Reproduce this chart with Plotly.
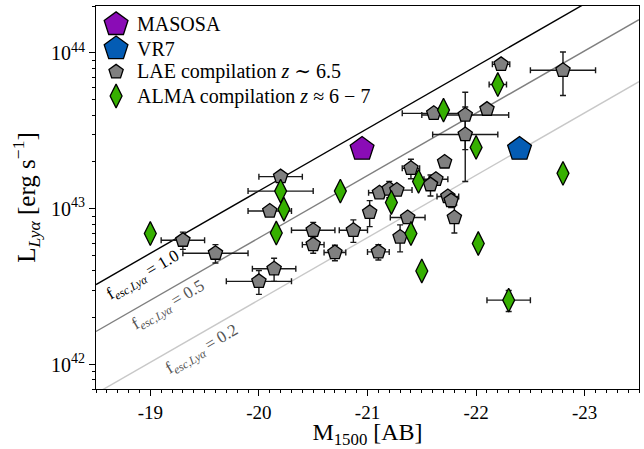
import numpy as np
import plotly.graph_objects as go

# ---------------- data ----------------
# MASOSA and VR7 (M1500 [AB], L_Lya [1e42 erg/s])
masosa_M = [-20.95]
masosa_L = [24.2]
masosa_Lerr = [2.0]

vr7_M = [-22.4]
vr7_L = [24.2]
vr7_Lerr = [2.0]

# LAE compilation z~6.5
lae_M = [-20.2, -20.1, -19.3, -19.6, -20.14, -20.0, -20.5, -20.5, -20.7, -20.87,
         -21.1, -21.02, -21.11, -21.2, -21.27, -21.37, -21.3, -21.4, -21.63, -21.58,
         -21.71, -21.74, -21.77, -21.8, -22.23, -22.8, -21.61, -21.9, -21.9, -22.1]
lae_L = [16.1, 9.7, 6.3, 5.2, 4.13, 3.43, 7.3, 5.9, 5.25, 7.3,
         5.3, 9.5, 12.7, 13.4, 13.2, 8.8, 6.6, 18.2, 15.5, 14.3,
         20.0, 12.0, 11.3, 8.8, 84.5, 77.4, 41.0, 40.0, 30.0, 43.6]
lae_Merr = [0.2, 0.2, 0.2, 0.3, 0.2, 0.3, 0.2, 0.1, 0.1, 0.13,
            0.1, 0.0, 0.1, 0.0, 0.14, 0.16, 0.0, 0.08, 0.11, 0.0,
            0.0, 0.1, 0.0, 0.0, 0.08, 0.3, 0.29, 0.4, 0.3, 0.0]
lae_Lerr = [0.0, 0.0, 0.8, 0.7, 0.7, 0.6, 0.9, 0.7, 0.6, 1.2,
            0.6, 1.8, 0.0, 1.6, 0.0, 0.0, 1.3, 2.6, 0.0, 2.2,
            0.0, 0.0, 1.1, 1.8, 0.0, 24.0, 0.0, 16.0, 15.0, 0.0]

# ALMA compilation z~6-7
alma_M = [-19.0, -20.2, -20.23, -20.16, -20.75, -21.22, -21.47, -21.4, -21.5, -22.02,
          -22.3, -21.7, -22.2, -22.0, -22.8]
alma_L = [6.95, 13.0, 9.95, 7.0, 13.0, 11.0, 15.0, 6.95, 4.0, 6.0,
          2.6, 43.0, 62.7, 24.8, 16.9]
alma_Merr = [0.0, 0.3, 0.0, 0.0, 0.0, 0.0, 0.0, 0.0, 0.0, 0.0,
             0.2, 0.0, 0.08, 0.0, 0.0]
alma_Lerr = [0.0, 0.0, 0.0, 0.0, 0.0, 0.0, 0.0, 0.0, 0.0, 0.0,
             0.4, 0.0, 0.0, 0.0, 0.0]

# escape-fraction lines: log10 L = LOGC + log10(f) - 0.4*M
fesc_vals = [1.0, 0.5, 0.2]
fesc_labels = ["1.0", "0.5", "0.2"]
line_M = [-18.5, -23.5]
LOGC = 35.115

xr = [-18.5, -23.5]
yr = [float(np.log10(7e41)), float(np.log10(2e44))]

FONT = "Liberation Serif, DejaVu Serif, serif"
ERRC = "#1a1a1a"
SCALE = 1e42

fig = go.Figure()

# lines
line_cols = ["#000000", "#7f7f7f", "#c8c8c8"]
for f, c in zip(fesc_vals, line_cols):
    Ls = [float(10.0 ** (LOGC + np.log10(f) - 0.4 * m)) for m in line_M]
    fig.add_trace(go.Scatter(x=line_M, y=Ls, mode="lines",
                             line=dict(color=c, width=1.4),
                             showlegend=False, hoverinfo="skip"))

def err(vals):
    return [float(v) * SCALE for v in vals]

# LAE compilation
fig.add_trace(go.Scatter(
    x=lae_M, y=err(lae_L), mode="markers",
    marker=dict(symbol="pentagon", size=15, color="#808080",
                line=dict(color="black", width=1.3)),
    error_x=dict(type="data", array=lae_Merr, color=ERRC, thickness=1.4, width=3),
    error_y=dict(type="data", array=err(lae_Lerr), color=ERRC, thickness=1.4, width=3),
    showlegend=False))

# ALMA compilation
fig.add_trace(go.Scatter(
    x=alma_M, y=err(alma_L), mode="markers",
    marker=dict(symbol="diamond-tall", size=17, color="#36b000",
                line=dict(color="black", width=1.3)),
    error_x=dict(type="data", array=alma_Merr, color=ERRC, thickness=1.4, width=3),
    error_y=dict(type="data", array=err(alma_Lerr), color=ERRC, thickness=1.4, width=3),
    showlegend=False))

# MASOSA
fig.add_trace(go.Scatter(
    x=masosa_M, y=err(masosa_L), mode="markers",
    marker=dict(symbol="pentagon", size=25, color="#8a0cb6",
                line=dict(color="black", width=1.3)),
    error_y=dict(type="data", array=err(masosa_Lerr), color=ERRC, thickness=1.4, width=3),
    showlegend=False))

# VR7
fig.add_trace(go.Scatter(
    x=vr7_M, y=err(vr7_L), mode="markers",
    marker=dict(symbol="pentagon", size=25, color="#045cb4",
                line=dict(color="black", width=1.3)),
    error_y=dict(type="data", array=err(vr7_Lerr), color=ERRC, thickness=1.4, width=3),
    showlegend=False))

# ---- custom legend on overlay axes (0..1 axes) ----
leg_names = ["MASOSA", "VR7", "LAE compilation <i>z</i> ∼ 6.5",
             "ALMA compilation <i>z</i> ≈ 6 − 7"]
leg_symbols = ["pentagon", "pentagon", "pentagon", "diamond-tall"]
leg_sizes = [25, 25, 15, 17]
leg_colors = ["#8a0cb6", "#045cb4", "#808080", "#36b000"]
leg_y = [0.952, 0.889, 0.828, 0.765]
for n, s, sz, c, yy in zip(leg_names, leg_symbols, leg_sizes, leg_colors, leg_y):
    fig.add_trace(go.Scatter(
        x=[0.037], y=[yy], xaxis="x2", yaxis="y2", mode="markers",
        marker=dict(symbol=s, size=sz, color=c, line=dict(color="black", width=1.3)),
        showlegend=False, hoverinfo="skip"))
    fig.add_annotation(x=0.071, y=yy, xref="x2", yref="y2", text=n,
                       showarrow=False, xanchor="left", yanchor="middle",
                       font=dict(family=FONT, size=20, color="black"))

# line labels
lab_pos = [(-18.934, 42.57), (-19.165, 42.38), (-19.479, 42.093)]
lab_cols = ["#000000", "#555555", "#555555"]
for lab, (mx, ly), c in zip(fesc_labels, lab_pos, lab_cols):
    fig.add_annotation(x=mx, y=ly, xref="x", yref="y",
                       text="f<sub><i>esc,Lyα</i></sub> = " + lab,
                       showarrow=False, textangle=-30.5,
                       font=dict(family=FONT, size=17, color=c))

minor_y = [float(m) * 10.0 ** e for e in (41, 42, 43, 44) for m in range(2, 10)]
minor_y = [v for v in minor_y if 7e41 <= v <= 2e44]

fig.update_layout(
    width=644, height=449,
    margin=dict(l=96, r=4, t=6, b=51),
    paper_bgcolor="white", plot_bgcolor="white",
    font=dict(family=FONT, size=19, color="black"),
    showlegend=False,
    xaxis=dict(range=xr, showgrid=False, zeroline=False,
               showline=True, linecolor="black", linewidth=1.2, mirror=True,
               ticks="outside", ticklen=6, tickwidth=1.2, tickcolor="black",
               tickvals=[-19, -20, -21, -22, -23],
               ticktext=["-19", "-20", "-21", "-22", "-23"],
               tickfont=dict(family=FONT, size=19),
               minor=dict(ticks="outside", ticklen=3, tickwidth=1, tickcolor="black", dtick=0.1),
               title=dict(text="M<sub>1500</sub> [AB]", font=dict(family=FONT, size=24), standoff=5)),
    yaxis=dict(type="log", range=yr, showgrid=False, zeroline=False,
               showline=True, linecolor="black", linewidth=1.2, mirror=True,
               ticks="outside", ticklen=6, tickwidth=1.2, tickcolor="black",
               tickvals=[1e42, 1e43, 1e44],
               ticktext=["10<sup>42</sup>", "10<sup>43</sup>", "10<sup>44</sup>"],
               tickfont=dict(family=FONT, size=20),
               minor=dict(ticks="outside", ticklen=3, tickwidth=1, tickcolor="black",
                          tickmode="array", tickvals=minor_y),
               title=dict(text="L<sub><i>Lyα</i></sub> [erg s<sup>−1</sup>]",
                          font=dict(family=FONT, size=25), standoff=8)),
    xaxis2=dict(range=[0, 1], overlaying="x", visible=False, fixedrange=True),
    yaxis2=dict(range=[0, 1], overlaying="y", visible=False, fixedrange=True),
)

fig.write_html("out.html", config={"displayModeBar": False},
               post_script="document.body.style.margin='0px';")
